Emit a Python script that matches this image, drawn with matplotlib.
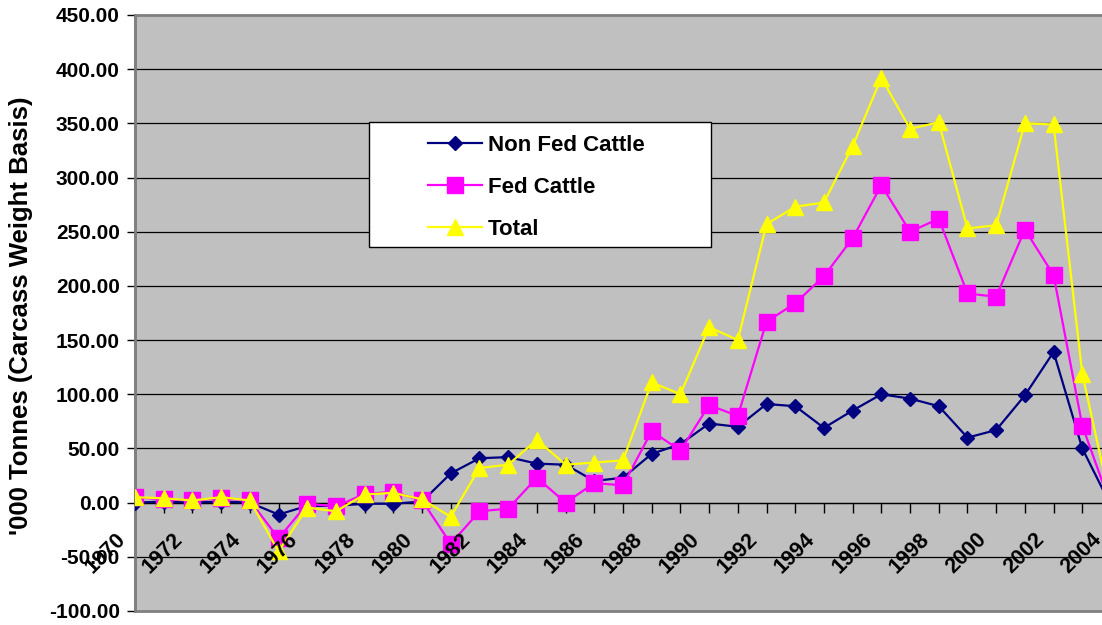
import matplotlib
matplotlib.use("Agg")
import matplotlib.pyplot as plt
from matplotlib.patches import Rectangle

plt.rcParams["font.family"] = ["Liberation Sans", "DejaVu Sans"]
plt.rcParams["font.weight"] = "bold"

years = list(range(1970, 2005))
year_labels = [str(y) for y in range(1970, 2005, 2)]
non_fed = [0, 1, 0, 1, 0, -11, -3, -3, -1, -1, 1, 27, 41, 42, 36, 35, 20, 23, 45, 54,
           73, 70, 91, 89, 69, 85, 100, 96, 89, 60, 67, 99, 139, 50, -3]
fed = [5, 3, 2, 4, 2, -33, -1, -3.5, 8, 10, 2, -38, -8, -5.5, 23, 0, 18, 16, 66, 48,
       90, 80, 167, 184, 209, 244, 293, 250, 262, 193, 190, 252, 210, 71, -3]
total = [5, 4, 2, 5, 2, -45, -4.5, -8, 7.6, 9, 3, -13, 32, 35, 58, 35, 37, 39, 111, 100,
         162, 150, 257, 273, 277, 329, 392, 345, 351, 253, 256, 350, 349, 119, -2]
y_ticks = list(range(-100, 451, 50))

W, H = 1102, 625
fig = plt.figure(figsize=(W / 100, H / 100), dpi=100)
# plot area runs past the right edge of the picture, like the cropped original
ax = fig.add_axes([135 / W, 1 - 611 / H, (1111 - 135) / W, (611 - 15) / H])
ax.set_facecolor("#c0c0c0")
ax.patch.set_edgecolor("#808080")
ax.patch.set_linewidth(2)

ax.plot(years, non_fed, color="#000080", lw=1.6, marker="D", ms=7.5, mec="#000080", label="Non Fed Cattle", zorder=3)
ax.plot(years, fed, color="#ff00ff", lw=1.6, marker="s", ms=11, mec="#ff00ff", label="Fed Cattle", zorder=4)
ax.plot(years, total, color="#ffff00", lw=1.6, marker="^", ms=11, mec="#ffff00", label="Total", zorder=5)

ax.set_xlim(1970, 2004)
ax.set_ylim(-100, 450)
ax.set_yticks(y_ticks)
ax.set_yticklabels(["%.2f" % v for v in y_ticks], fontsize=15, fontweight="bold")
ax.grid(axis="y", color="black", lw=0.9)
gl = ax.get_ygridlines()
gl[0].set_visible(False)
gl[-1].set_visible(False)
ax.tick_params(axis="y", direction="out", length=6, width=1, pad=5, color="black")

ax.set_xticks(years)
ax.tick_params(axis="x", direction="out", length=7, width=1, labelbottom=False, color="black")
ax.spines["bottom"].set_position(("data", 0))
ax.spines["bottom"].set_color("black")
ax.spines["bottom"].set_linewidth(0.9)
ax.spines["top"].set_visible(False)
ax.spines["right"].set_visible(False)
ax.spines["left"].set_color("#808080")
ax.spines["left"].set_linewidth(2)

for lab in year_labels:
    ax.annotate(lab, xy=(int(lab), 0), xytext=(-5, -26), textcoords="offset pixels",
                rotation=45, ha="right", va="top", fontsize=15.5, fontweight="bold",
                annotation_clip=False, zorder=6)

fig.text(21 / W, 1 - 316 / H, "'000 Tonnes (Carcass Weight Basis)", rotation=90,
         ha="center", va="center", fontsize=18.5, fontweight="bold")

# legend box
ax.add_patch(Rectangle((369 / W, 1 - 247 / H), (711 - 369) / W, (247 - 122) / H,
                       transform=fig.transFigure, facecolor="white", edgecolor="black",
                       lw=1, zorder=7))
leg = ax.legend(loc="upper left", bbox_to_anchor=(412 / W, 1 - 119 / H),
                bbox_transform=fig.transFigure, frameon=False,
                handlelength=2.45, handletextpad=0.25, labelspacing=0.95,
                borderpad=0.2, prop={"weight": "bold", "size": 16})
leg.set_zorder(8)

fig.savefig("out.png", dpi=100)
